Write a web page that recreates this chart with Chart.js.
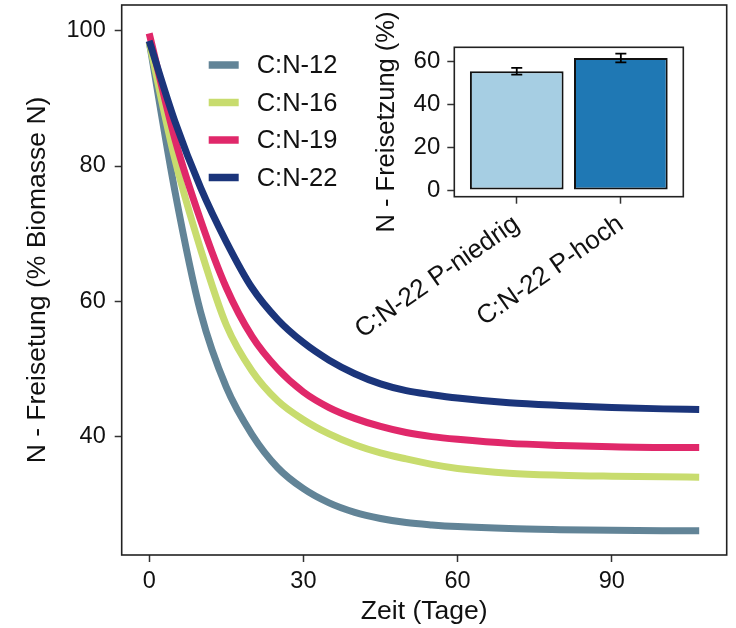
<!DOCTYPE html>
<html>
<head>
<meta charset="utf-8">
<script src="https://cdn.jsdelivr.net/npm/chart.js@4.4.1/dist/chart.umd.min.js"></script>
<style>
  html, body { margin: 0; padding: 0; background: #fff; }
  #wrap { position: relative; width: 736px; height: 628px; }
  #main { position: absolute; left: 0; top: 0; }
  #inset { position: absolute; left: 340px; top: 0; }
</style>
</head>
<body>
<div id="wrap">
  <canvas id="main" width="736" height="628" style="width:736px;height:628px"></canvas>
  <canvas id="inset" width="396" height="360" style="width:396px;height:360px"></canvas>
</div>
<script>
// Main chart data
const days = [0, 5, 10, 15, 20, 25, 30, 35, 40, 45, 50, 55, 60, 70, 80, 90, 100, 107];
const cn12 = [98.4, 76.3, 58.4, 47.3, 40.3, 35.4, 32.3, 30.2, 28.8, 27.9, 27.3, 26.95, 26.7, 26.4, 26.25, 26.15, 26.1, 26.1];
const cn16 = [98.3, 81.0, 67.7, 56.5, 49.7, 45.3, 42.5, 40.4, 38.8, 37.6, 36.7, 35.9, 35.3, 34.6, 34.3, 34.15, 34.05, 34.0];
const cn19 = [99.6, 84.0, 72.0, 62.0, 54.8, 50.0, 46.6, 44.3, 42.7, 41.5, 40.6, 40.0, 39.6, 39.0, 38.7, 38.5, 38.4, 38.4];
const cn22 = [98.5, 86.6, 76.8, 68.8, 62.0, 57.3, 53.9, 51.3, 49.3, 47.8, 46.8, 46.2, 45.7, 45.0, 44.6, 44.3, 44.1, 44.0];
const seriesNames = ['C:N-12', 'C:N-16', 'C:N-19', 'C:N-22'];
const seriesColors = ['#628497', '#c8dc6e', '#e0286a', '#1b357b'];
const xTicks = [0, 30, 60, 90];
const yTicks = [40, 60, 80, 100];

// Inset data
const insetLabels = ['C:N-22 P-niedrig', 'C:N-22 P-hoch'];
const insetValues = [55.5, 61.7];
const insetErrors = [1.6, 2.0];
const insetColors = ['#a6cee3', '#1f78b4'];
const insetTicks = [0, 20, 40, 60];

const FONT = "'Liberation Sans', Arial, sans-serif";
const TXT = '#111';

// Draws the panel border around the plot area
const frame = {
    id: 'frame',
    afterDraw(chart) {
        const a = chart.chartArea;
        const ctx = chart.ctx;
        ctx.save();
        ctx.strokeStyle = '#222';
        ctx.lineWidth = 1.6;
        ctx.strokeRect(a.left, a.top, a.right - a.left, a.bottom - a.top);
        ctx.restore();
    }
};

// Legend inside the plot area
const insideLegend = {
    id: 'insideLegend',
    afterDatasetsDraw(chart) {
        const a = chart.chartArea;
        const ctx = chart.ctx;
        ctx.save();
        ctx.font = '25.5px ' + FONT;
        ctx.textBaseline = 'middle';
        ctx.fillStyle = TXT;
        seriesNames.forEach((name, i) => {
            const y = a.top + 60 + i * 37.5;
            ctx.strokeStyle = seriesColors[i];
            ctx.lineWidth = 7.5;
            ctx.beginPath();
            ctx.moveTo(a.left + 87, y);
            ctx.lineTo(a.left + 117, y);
            ctx.stroke();
            ctx.fillText(name, a.left + 135, y + 1);
        });
        ctx.restore();
    }
};

// keep the plot area where the layout puts it (no label overhang padding)
function noPad(s) {
    s.paddingTop = 0; s.paddingBottom = 0; s.paddingLeft = 0; s.paddingRight = 0;
}

const series = [cn12, cn16, cn19, cn22];
const datasets = series.map((vals, i) => ({
    label: seriesNames[i],
    data: days.map((d, j) => ({ x: d, y: vals[j] })),
    borderColor: seriesColors[i],
    borderWidth: 7,
    borderCapStyle: 'butt',
    pointRadius: 0,
    cubicInterpolationMode: 'monotone',
    order: 3 - i
}));

new Chart(document.getElementById('main'), {
    type: 'line',
    data: { datasets },
    options: {
        responsive: false,
        animation: false,
        layout: { padding: { top: 5, right: 9.3, left: 0, bottom: 0 } },
        plugins: { legend: { display: false }, tooltip: { enabled: false } },
        scales: {
            x: {
                type: 'linear',
                min: -5.35,
                max: 112.35,
                afterBuildTicks: s => { s.ticks = xTicks.map(v => ({ value: v })); },
                afterFit: s => { s.height = 73; noPad(s); },
                grid: { drawOnChartArea: false, tickLength: 7, tickColor: '#333', tickWidth: 1.5 },
                border: { display: false },
                ticks: { font: { size: 23.5, family: FONT }, color: TXT, padding: 5, maxRotation: 0 },
                title: { display: true, text: 'Zeit (Tage)', font: { size: 26.5, family: FONT }, color: TXT, padding: { top: 0, bottom: 0 } }
            },
            y: {
                min: 22.5,
                max: 103.8,
                afterBuildTicks: s => { s.ticks = yTicks.map(v => ({ value: v })); },
                afterFit: s => { s.width = 121.7; noPad(s); },
                grid: { drawOnChartArea: false, tickLength: 7, tickColor: '#333', tickWidth: 1.5 },
                border: { display: false },
                ticks: { font: { size: 23.5, family: FONT }, color: TXT, padding: 9 },
                title: { display: true, text: 'N - Freisetung (% Biomasse N)', font: { size: 26.5, family: FONT }, color: TXT, padding: { top: 22, bottom: 0 } }
            }
        }
    },
    plugins: [frame, insideLegend]
});

// Inset bar chart: white panel and error bars
const insetPanel = {
    id: 'insetPanel',
    beforeDatasetsDraw(chart) {
        const a = chart.chartArea;
        chart.ctx.save();
        chart.ctx.fillStyle = '#fff';
        chart.ctx.fillRect(a.left, a.top, a.right - a.left, a.bottom - a.top);
        chart.ctx.restore();
    }
};

const errorBars = {
    id: 'errorBars',
    afterDatasetsDraw(chart) {
        const xs = chart.scales.x, ys = chart.scales.y;
        const ctx = chart.ctx;
        ctx.save();
        ctx.strokeStyle = '#000';
        ctx.lineWidth = 1.8;
        insetValues.forEach((v, i) => {
            const x = xs.getPixelForValue(i + 1);
            const lo = ys.getPixelForValue(v - insetErrors[i]);
            const hi = ys.getPixelForValue(v + insetErrors[i]);
            ctx.beginPath();
            ctx.moveTo(x, lo); ctx.lineTo(x, hi);
            ctx.moveTo(x - 5.5, lo); ctx.lineTo(x + 5.5, lo);
            ctx.moveTo(x - 5.5, hi); ctx.lineTo(x + 5.5, hi);
            ctx.stroke();
        });
        ctx.restore();
    }
};

new Chart(document.getElementById('inset'), {
    type: 'bar',
    data: {
        datasets: [{
            data: insetValues.map((v, i) => ({ x: i + 1, y: v })),
            backgroundColor: insetColors,
            borderColor: '#111',
            borderWidth: 2,
            borderSkipped: false,
            categoryPercentage: 1,
            barPercentage: 0.9
        }]
    },
    options: {
        responsive: false,
        animation: false,
        layout: { padding: { top: 47.3, right: 52.7, left: 0, bottom: 0 } },
        plugins: { legend: { display: false }, tooltip: { enabled: false } },
        scales: {
            x: {
                type: 'linear',
                offset: false,
                min: 0.4,
                max: 2.6,
                afterBuildTicks: s => { s.ticks = [1, 2].map(v => ({ value: v })); },
                afterFit: s => { s.height = 163.3; noPad(s); },
                grid: { offset: false, drawOnChartArea: false, tickLength: 7, tickColor: '#333', tickWidth: 1.5 },
                border: { display: false },
                ticks: {
                    font: { size: 26, family: FONT }, color: TXT, padding: 5,
                    minRotation: 35, maxRotation: 35, autoSkip: false,
                    callback: v => insetLabels[v - 1]
                }
            },
            y: {
                min: -3.13,
                max: 66.7,
                afterBuildTicks: s => { s.ticks = insetTicks.map(v => ({ value: v })); },
                afterFit: s => { s.width = 114.3; noPad(s); },
                grid: { drawOnChartArea: false, tickLength: 7, tickColor: '#333', tickWidth: 1.5 },
                border: { display: false },
                ticks: { font: { size: 24, family: FONT }, color: TXT, padding: 7 },
                title: { display: true, text: 'N - Freisetzung (%)', font: { size: 25.5, family: FONT }, color: TXT, padding: { top: 32, bottom: 0 } }
            }
        }
    },
    plugins: [insetPanel, errorBars, frame]
});
</script>
</body>
</html>
